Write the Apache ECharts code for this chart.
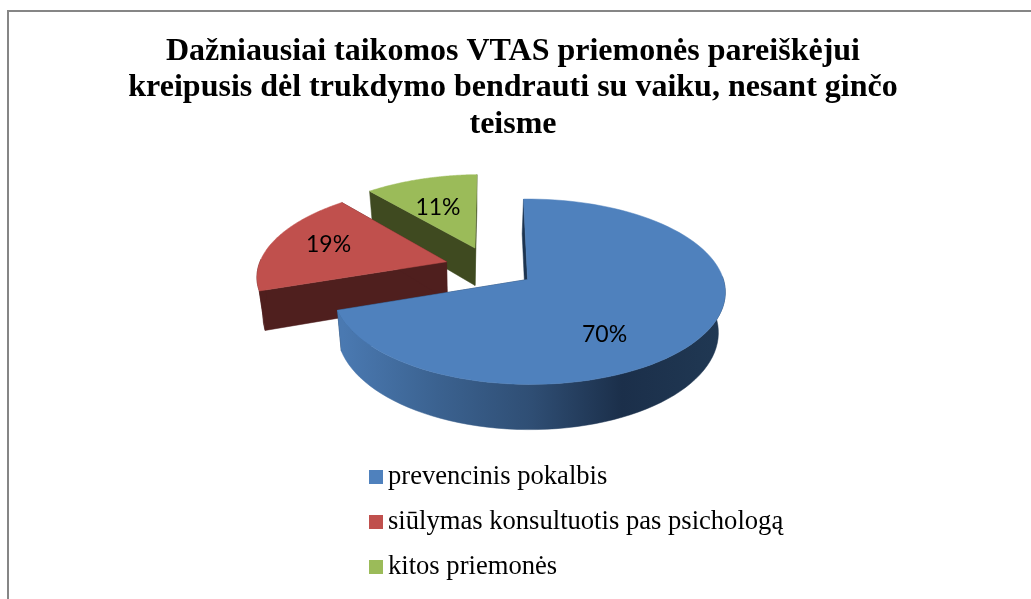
<!DOCTYPE html>
<html><head><meta charset="utf-8"><script src="https://cdn.jsdelivr.net/npm/echarts@6/dist/echarts.min.js"></script>
<style>html,body{margin:0;background:#fff}#m{width:1031px;height:599px}</style></head>
<body><div id="m"></div>
<script>
const titleText='Dažniausiai taikomos VTAS priemonės pareiškėjui\nkreipusis dėl trukdymo bendrauti su vaiku, nesant ginčo\nteisme';
const categories=['prevencinis pokalbis','siūlymas konsultuotis pas psichologą','kitos priemonės'];
const values=[70,19,11];

// Styling and layout, kept apart from the data
const topColors=['#4f81bd','#c0504d','#9bbb59'];
const wallColors=['#1d3450','#4f1f1e','#3f4a20'];
const labelOffsets=[[77,55],[-118,-17],[-37,-41]];
const paintOrder=[3,2,1];
const EXPLODE=0.24, DEPTH=38.5, VANISH_X=475, VANISH_K=0.0276;
// Plane-to-screen projection of the pie (a tilted disc with perspective)
const P={a:187.65,b:63.92,c:489.93,d:-3.10,e:-53.02,f:267.19,g:-0.0054,h:0.1297};
function project(u,v){const D=P.g*u+P.h*v+1;return [(P.a*u+P.b*v+P.c)/D,(P.d*u+P.e*v+P.f)/D,D];}
function drop(p){return [p[0]-VANISH_K*(p[0]-VANISH_X),p[1]+DEPTH/p[2]];}

const total=values.reduce((s,v)=>s+v,0);
const starts=values.map((_,i)=>values.slice(0,i).reduce((s,v)=>s+v,0)/total*2*Math.PI);

function poly(points,fill,z2){return {type:'polygon',z2:z2,shape:{points:points.map(p=>[p[0],p[1]])},style:{fill:fill,stroke:fill,lineWidth:0.5}};}

function renderSlice(i,api){
  const value=api.value(0), a0=starts[i], a1=a0+value/total*2*Math.PI, mid=(a0+a1)/2;
  const ou=EXPLODE*Math.sin(mid), ov=EXPLODE*Math.cos(mid);
  const apex=project(ou,ov), arc=[], front=[];
  const steps=96;
  for(let k=0;k<=steps;k++){
    const t=a0+(a1-a0)*k/steps, p=project(ou+Math.sin(t),ov+Math.cos(t));
    arc.push(p);
    if(Math.cos(t)<0.05)front.push(p);   // only the part of the rim facing the viewer
  }
  const wallFill=i===0?new echarts.graphic.LinearGradient(343,0,720,0,[
    {offset:0,color:'#4a79b1'},{offset:0.25,color:'#3b6290'},{offset:0.5,color:'#2f4e74'},{offset:0.74,color:'#1b2f4a'},{offset:1,color:'#203853'}],true):wallColors[i];
  const first=[apex,arc[0],drop(arc[0]),drop(apex)];
  const last=[apex,arc[steps],drop(arc[steps]),drop(apex)];
  const children=[poly(first,wallColors[i],1),poly(last,wallColors[i],1)];
  if(front.length>1)children.push(poly(front.concat(front.slice().reverse().map(drop)),wallFill,2));
  children.push(poly([apex].concat(arc),topColors[i],3));
  children.push({type:'text',z2:4,style:{text:value+'%',x:apex[0]+labelOffsets[i][0],y:apex[1]+labelOffsets[i][1],align:'center',verticalAlign:'middle',fill:'#000',font:'23px Lato'}});
  return {type:'group',children:children};
}

const chart=echarts.init(document.getElementById('m'));
chart.setOption({
  animation:false,
  backgroundColor:'#fff',
  title:{text:titleText,left:508,top:28,textAlign:'center',textStyle:{fontFamily:'Liberation Serif',fontWeight:'bold',fontSize:32,lineHeight:36.5,color:'#000'}},
  legend:{left:364,top:458,orient:'vertical',selectedMode:false,icon:'rect',itemWidth:14,itemHeight:14,itemGap:17,data:categories,
    textStyle:{fontFamily:'Liberation Serif',fontSize:26.6,color:'#000',height:28,lineHeight:34}},
  graphic:[{type:'polyline',silent:true,shape:{points:[[8,599],[8,11],[1031,11]]},style:{fill:null,stroke:'#868686',lineWidth:2}}],
  series:categories.map((name,i)=>({
    type:'custom',name:name,coordinateSystem:'none',z:paintOrder[i],silent:true,
    itemStyle:{color:topColors[i]},
    data:[{name:name,value:[values[i]]}],
    renderItem:(params,api)=>renderSlice(i,api)
  }))
});
</script></body></html>
